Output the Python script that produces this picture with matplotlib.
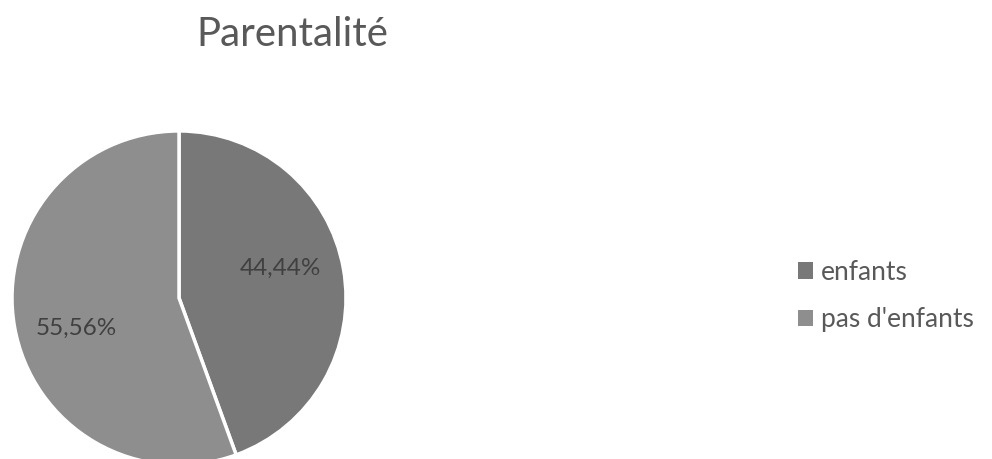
import matplotlib.pyplot as plt

plt.rcParams['font.family'] = ['Lato', 'DejaVu Sans']

# parentalité des répondants
labels = ["enfants", "pas d'enfants"]
values = [44.44, 55.56]
colors = ["#787878", "#8e8e8e"]

fig = plt.figure(figsize=(9.92, 4.59), dpi=100)
fig.patch.set_facecolor("white")

ax = fig.add_axes([0.0121, -0.013, 0.3367, 0.7277])
wedges, texts, autotexts = ax.pie(
    values,
    colors=colors,
    startangle=90,
    counterclock=False,
    radius=1.0,
    wedgeprops=dict(edgecolor="white", linewidth=2.5),
    autopct=lambda p: f"{p:.2f}%".replace(".", ","),
    pctdistance=0.6,
    textprops=dict(color="#404040", fontsize=17.5),
)
autotexts[0].set_position((0.605, 0.18))
autotexts[1].set_position((-0.617, -0.18))
ax.set_xlim(-1.0, 1.0)
ax.set_ylim(-1.0, 1.0)
ax.set_aspect("equal")

fig.text(0.295, 0.925, "Parentalité", ha="center", va="center",
         fontsize=29, color="#595959")

# légende : petits carrés gris à droite
leg = fig.legend(wedges, labels, loc="center left",
                 bbox_to_anchor=(0.804, 0.355), frameon=False,
                 borderpad=0, borderaxespad=0,
                 fontsize=19, handlelength=0.6, handleheight=0.6,
                 handletextpad=0.3, labelspacing=0.85,
                 labelcolor="#595959")
for h in leg.legend_handles:
    h.set_edgecolor("none")
    h.set_linewidth(0)

fig.savefig("out.png", dpi=100, facecolor="white")
